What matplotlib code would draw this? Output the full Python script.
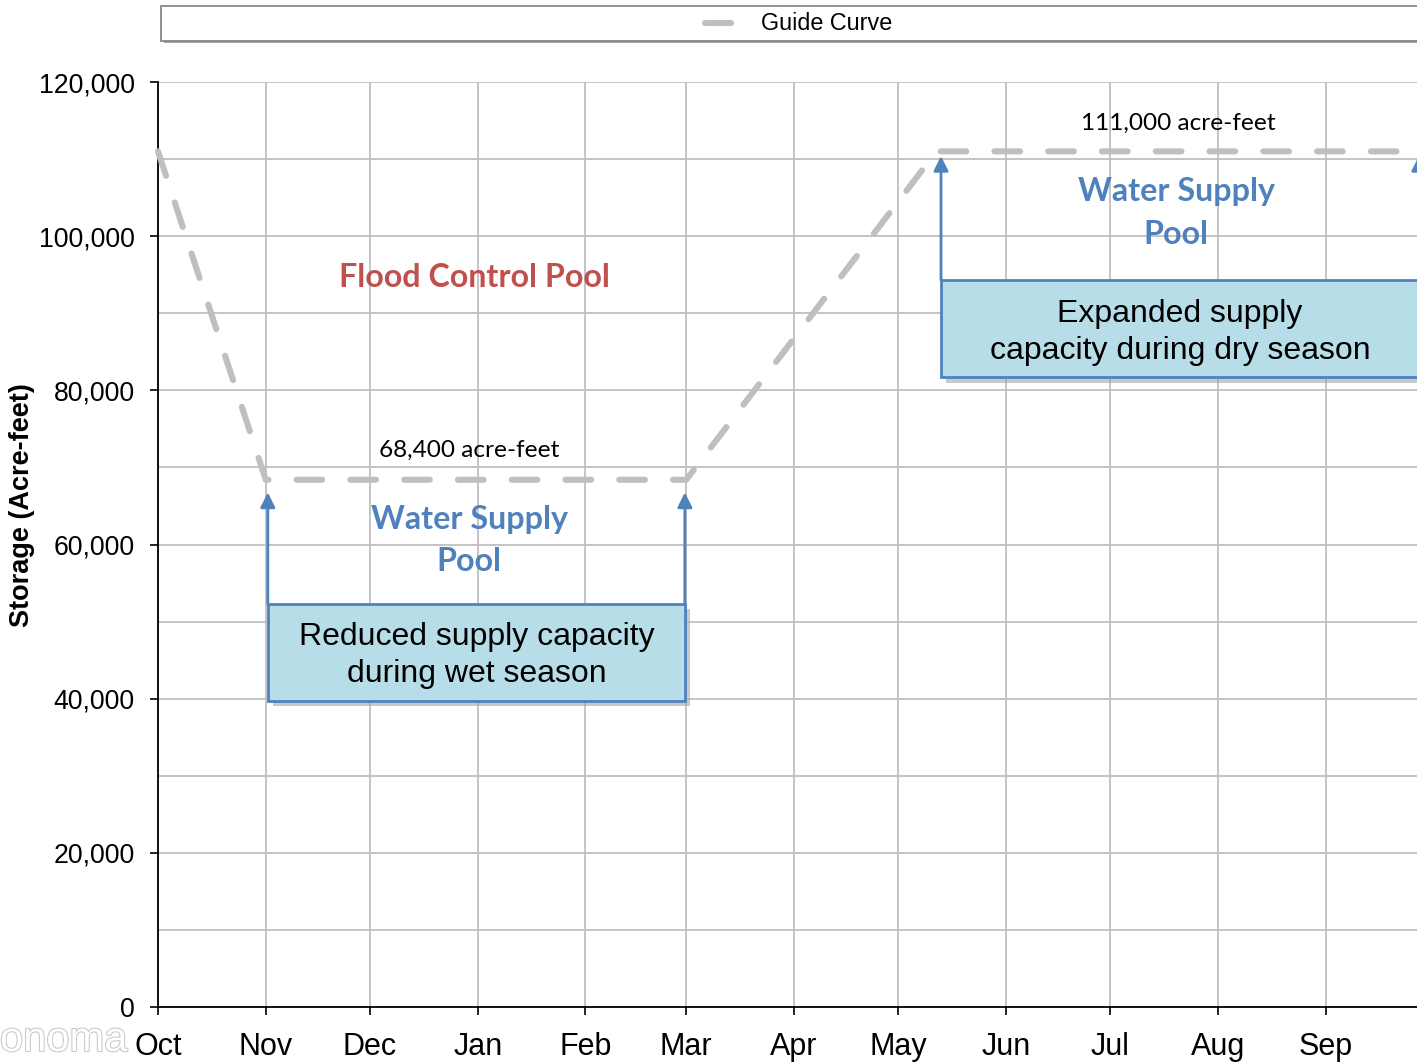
import matplotlib
matplotlib.use('Agg')
import matplotlib.pyplot as plt
from matplotlib.patches import Rectangle
from matplotlib.lines import Line2D
from matplotlib.ticker import FuncFormatter, MultipleLocator
import matplotlib.patheffects as pe

# day of water year (0 = Oct 1), leap year layout
month_names = ['Oct', 'Nov', 'Dec', 'Jan', 'Feb', 'Mar', 'Apr', 'May', 'Jun', 'Jul', 'Aug', 'Sep']
month_starts = [0, 31, 61, 92, 123, 152, 183, 213, 244, 274, 305, 336]

# guide curve vertices
curve_days = [0, 31, 152, 224, 366]
curve_storage = [111000, 68400, 68400, 111000, 111000]

wet_level = 68400
dry_level = 111000

gray = '#BFBFBF'
blue = '#4F81BD'
red = '#C0504D'
box_fill = '#B7DEE8'

fig = plt.figure(figsize=(14.17, 10.62), dpi=100)
ax = fig.add_axes([158 / 1417, 1 - 1007 / 1062, 1272 / 1417, 925 / 1062])

ax.plot(curve_days, curve_storage, color=gray, lw=4.4, dashes=(4.2, 4.6),
        dash_capstyle='round', solid_capstyle='round', zorder=3, clip_on=False)

ax.set_xlim(0, 366)
ax.set_ylim(0, 120000)
ax.set_xticks(month_starts)
ax.set_xticklabels(month_names)
ax.yaxis.set_major_locator(MultipleLocator(20000))
ax.yaxis.set_minor_locator(MultipleLocator(10000))
ax.yaxis.set_major_formatter(FuncFormatter(lambda v, p: '{:,}'.format(int(v))))
ax.grid(True, which='both', color=gray, lw=1.3, zorder=0)
ax.set_axisbelow(True)
ax.tick_params(axis='both', which='major', length=5.8, width=1.2, direction='out')
ax.tick_params(axis='y', which='major', labelsize=19.2, pad=11)
ax.tick_params(axis='x', which='major', labelsize=22, pad=12.5)
ax.tick_params(axis='y', which='minor', length=0)
for lab in ax.get_xticklabels() + ax.get_yticklabels():
    lab.set_fontfamily('Liberation Sans')
ax.spines['top'].set_visible(False)
ax.spines['right'].set_visible(False)
ax.spines['left'].set_linewidth(1.3)
ax.spines['bottom'].set_linewidth(1.3)
fig.text(22 / 1417, 1 - 505 / 1062, 'Storage (Acre-feet)', fontsize=19.5, fontweight='bold',
         family='Liberation Sans', rotation=90, ha='center', va='center')


def draw_box(x0, x1, y0, y1, text, tip, dy):
    sh = Rectangle((x0 + 1.5, y0 - 700), x1 - x0, y1 - y0, facecolor='#A6A6A6',
                   edgecolor='none', alpha=0.6, zorder=4, clip_on=False)
    ax.add_patch(sh)
    r = Rectangle((x0, y0), x1 - x0, y1 - y0, facecolor=box_fill, edgecolor=blue,
                  lw=2, zorder=5, clip_on=False)
    ax.add_patch(r)
    ax.text((x0 + x1) / 2, (y0 + y1) / 2 + dy, text, ha='center', va='center',
            fontsize=23, family='Liberation Sans', linespacing=1.3, zorder=6,
            clip_on=False)
    for x in (x0, x1):
        ax.annotate('', xy=(x, tip), xytext=(x, y1),
                    arrowprops=dict(arrowstyle='-|>', color=blue, lw=2,
                                    mutation_scale=22, shrinkA=0, shrinkB=0),
                    zorder=5, annotation_clip=False)


draw_box(31.6, 151.6, 39740, 52340, 'Reduced supply capacity\nduring wet season', 66750, -400)
draw_box(225.3, 362.8, 81690, 94290, 'Expanded supply\ncapacity during dry season', 110400, -500)

ax.text(91, 94700, 'Flood Control Pool', color=red, fontsize=23.2, fontweight='bold',
        family='Lato', ha='center', va='center')
ax.text(89.5, 60500, 'Water Supply\nPool', color=blue, fontsize=23.2, fontweight='bold',
        family='Lato', ha='center', va='center', linespacing=1.55)
ax.text(293, 103000, 'Water Supply\nPool', color=blue, fontsize=23.2, fontweight='bold',
        family='Lato', ha='center', va='center', linespacing=1.55)
ax.text(89.5, 72250, '{:,} acre-feet'.format(wet_level), fontsize=17.6, family='Lato',
        ha='center', va='center')
ax.text(293.5, 114650, '{:,} acre-feet'.format(dry_level), fontsize=17.6, family='Lato',
        ha='center', va='center')

# legend box across the top
fig.patches.append(Rectangle((161 / 1417 + 0.002, 1 - 43 / 1062), 1270 / 1417, 35 / 1062,
                             transform=fig.transFigure, facecolor='#A6A6A6',
                             edgecolor='none', zorder=0))
fig.patches.append(Rectangle((161 / 1417, 1 - 41 / 1062), 1270 / 1417, 35 / 1062,
                             transform=fig.transFigure, facecolor='white',
                             edgecolor='#7F7F7F', lw=1.2, zorder=1))
fig.lines.append(Line2D([705 / 1417, 731 / 1417], [1 - 23 / 1062] * 2, transform=fig.transFigure,
                        color=gray, lw=4.4, solid_capstyle='round', zorder=2))
fig.text(761 / 1417, 1 - 23.5 / 1062, 'Guide Curve', fontsize=16.8, family='Liberation Sans',
         ha='left', va='center', zorder=3)

# faint watermark
fig.text(0, 1 - 1040 / 1062, 'onoma', fontsize=30, family='Liberation Sans',
         color='white', ha='left', va='center',
         path_effects=[pe.withStroke(linewidth=1.5, foreground='#C8C8C8')])

fig.savefig('out.png', dpi=100)
